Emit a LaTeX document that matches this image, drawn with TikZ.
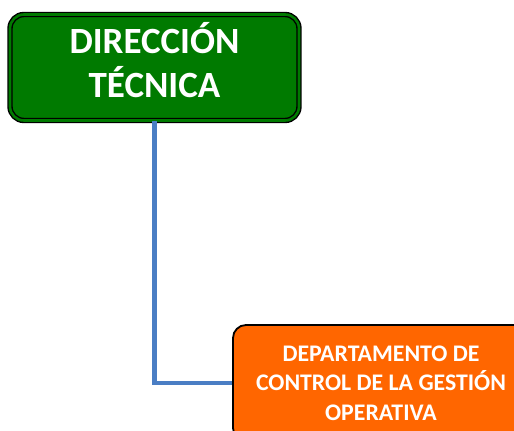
\documentclass[tikz,border=0pt]{standalone}
\usepackage{fontspec}
\setmainfont{Carlito}
\definecolor{verdeDir}{RGB}{0,122,0}
\definecolor{naranjaDep}{RGB}{255,102,0}
\definecolor{azulLinea}{RGB}{74,126,196}
\begin{document}
\begin{tikzpicture}[x=1pt, y=-1pt, every node/.style={font=\bfseries, text=white, align=center}]
        \useasboundingbox (0,0) rectangle (514,431);
        \clip (0,0) rectangle (514,431);
        \node[draw=black, line width=1.4pt, double=verdeDir, double distance=2.6pt, fill=verdeDir, rounded corners=14pt, minimum width=289pt, minimum height=106pt, inner sep=0pt, font=\bfseries\fontsize{37}{44}\selectfont] (dir) at (154.5,67.5) {DIRECCIÓN\\TÉCNICA\rule[-16pt]{0pt}{0pt}};
        \node[draw=black, line width=1.8pt, fill=naranjaDep, rounded corners=13pt, minimum width=296pt, minimum height=116pt, font=\bfseries\fontsize{23.8}{29.5}\selectfont] (dep) at (381,383) {DEPARTAMENTO DE\\CONTROL DE LA GESTIÓN\\OPERATIVA};
        \draw[azulLinea, line width=4.5pt] (dir.south) |- (dep.west);
    \end{tikzpicture}
\end{document}
